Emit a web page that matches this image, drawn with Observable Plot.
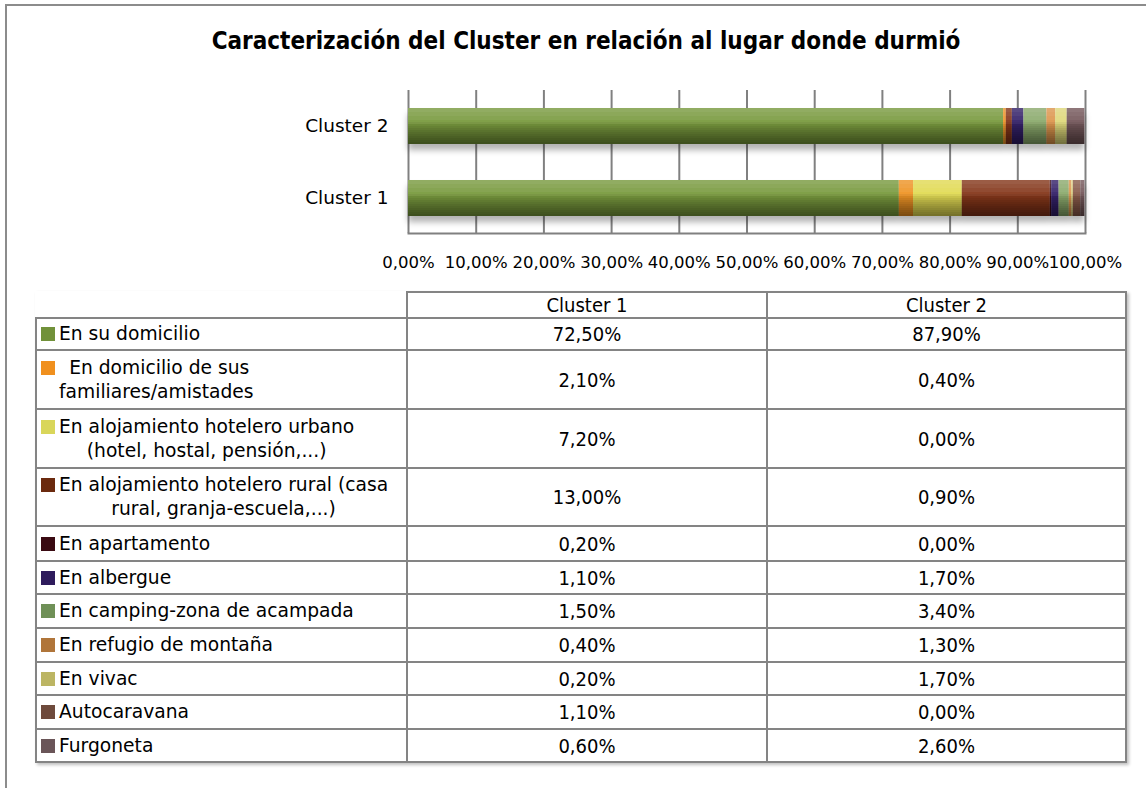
<!DOCTYPE html>
<html><head><meta charset="utf-8">
<script src="https://cdn.jsdelivr.net/npm/d3@7"></script>
<script src="https://cdn.jsdelivr.net/npm/@observablehq/plot@0.6"></script>
<style>
body{margin:0;background:#fff;}
#wrap{position:relative;width:1146px;height:788px;overflow:hidden;background:#fff;}
#frame{position:absolute;left:5px;top:4px;width:1200px;height:900px;border-left:2px solid #8c8c8c;border-top:2px solid #8c8c8c;}
#title{position:absolute;left:0;width:1172px;top:27px;text-align:center;font:bold 24px "DejaVu Sans Condensed";color:#000;}
#chart{position:absolute;left:0;top:80px;}
#tbl{position:absolute;left:35px;top:291px;border-collapse:collapse;color:#000;box-shadow:2px 2px 3px rgba(0,0,0,0.25);table-layout:fixed;}
#tbl td,#tbl th{border:2px solid #848484;padding:0;}
#tbl th{font:20px "DejaVu Sans Condensed";font-weight:normal;text-align:center;height:24px;}
#tbl th.empty{border:none;}
#tbl td.v{text-align:center;font:20px "DejaVu Sans Condensed";}
#tbl td.l{font:18.7px "DejaVu Sans";vertical-align:middle;}
.lab{display:flex;align-items:flex-start;padding-left:4px;}
.sw{width:14px;height:14px;margin-top:5px;margin-right:4px;flex:none;}
.txt{display:inline-block;text-align:center;line-height:24px;}
</style></head>
<body><div id="wrap"><div id="frame"></div><div id="title"></div><div id="chart"></div><table id="tbl"></table></div>
<script>
const title = "Caracterización del Cluster en relación al lugar donde durmió";
const categories = [
  "En su domicilio",
  "En domicilio de sus familiares/amistades",
  "En alojamiento hotelero urbano (hotel, hostal, pensión,...)",
  "En alojamiento hotelero rural (casa rural, granja-escuela,...)",
  "En apartamento",
  "En albergue",
  "En camping-zona de acampada",
  "En refugio de montaña",
  "En vivac",
  "Autocaravana",
  "Furgoneta"
];
const categoryLines = [
  ["En su domicilio"],
  [" En domicilio de sus", "familiares/amistades"],
  ["En alojamiento hotelero urbano", "(hotel, hostal, pensión,...)"],
  ["En alojamiento hotelero rural (casa", "rural, granja-escuela,...)"],
  ["En apartamento"],
  ["En albergue"],
  ["En camping-zona de acampada"],
  ["En refugio de montaña"],
  ["En vivac"],
  ["Autocaravana"],
  ["Furgoneta"]
];
const colors = ["#71913a","#f0901e","#d9d65a","#6b2a0e","#3a0a12","#2e1b5c","#6f9057","#b0753a","#bcb563","#6e4a3c","#6a5558"];
const barColors = ["#7a9b40","#f09526","#e2dc55","#86381a","#3a0a12","#34206a","#8dab6e","#de9750","#e0da7c","#8a5c4c","#74585c"];
const clusters = ["Cluster 2","Cluster 1"];
const headers = ["Cluster 1","Cluster 2"];
const cluster1 = [72.5,2.1,7.2,13.0,0.2,1.1,1.5,0.4,0.2,1.1,0.6];
const cluster2 = [87.9,0.4,0.0,0.9,0.0,1.7,3.4,1.3,1.7,0.0,2.6];
const xTicks = [0,10,20,30,40,50,60,70,80,90,100];
const rowHeights = [32,59,59,58,35,33,34,34,33,34,33];

const fmt = v => v.toFixed(2).replace(".", ",") + "%";

document.getElementById("title").textContent = title;

const data = categories.flatMap((c, i) => [
  {cluster: "Cluster 1", cat: c, value: cluster1[i]},
  {cluster: "Cluster 2", cat: c, value: cluster2[i]}
]);
const totals = [
  {cluster: "Cluster 1", total: d3.sum(cluster1)},
  {cluster: "Cluster 2", total: d3.sum(cluster2)}
];

const stackOpts = {x: "value", y: "cluster", z: "cat", order: categories};

// shading layers (darker towards the bottom, lighter at the top)
const darkInsets = [14, 16, 18, 20, 22, 24, 26, 28, 30, 32, 34];
const lightInsets = [20, 24, 28, 32];
const shade = [
  ...darkInsets.map(t => Plot.barX(totals, {x1: 0, x2: "total", y: "cluster", fill: "black", fillOpacity: 0.056, insetTop: t})),
  ...lightInsets.map(b => Plot.barX(totals, {x1: 0, x2: "total", y: "cluster", fill: "white", fillOpacity: 0.05, insetBottom: b}))
];

const plot = Plot.plot({
  width: 1146, height: 200,
  marginLeft: 408, marginRight: 61, marginTop: 10, marginBottom: 47,
  style: {fontFamily: "DejaVu Sans", color: "#000", background: "transparent"},
  x: {domain: [0, 100], range: [408, 1085]},
  y: {domain: clusters, paddingInner: 0.5, paddingOuter: 0.243},
  color: {domain: categories, range: barColors},
  marks: [
    Plot.gridX(xTicks, {stroke: "#808080", strokeOpacity: 1, strokeWidth: 2}),
    Plot.frame({anchor: "bottom", stroke: "#808080", strokeWidth: 2}),
    Plot.barX(data, Plot.stackX({...stackOpts, fill: "cat", className: "basebars"})),
    ...shade,
    Plot.axisX({ticks: xTicks, tickSize: 0, tickPadding: 23, tickFormat: fmt, fontSize: 16.5, label: null}),
    Plot.axisY({tickSize: 0, tickPadding: 20, fontSize: 18.5, label: null})
  ]
});

const svg = d3.select(plot);
const defs = svg.insert("defs", ":first-child");
const f = defs.append("filter").attr("id", "sh").attr("x", "-5%").attr("y", "-20%").attr("width", "110%").attr("height", "170%");
f.append("feDropShadow").attr("dx", 0).attr("dy", 6).attr("stdDeviation", 3).attr("flood-color", "#000").attr("flood-opacity", 0.3);
svg.selectAll("g.basebars").attr("filter", "url(#sh)");

document.getElementById("chart").appendChild(plot);

// table
const tbl = d3.select("#tbl");
const colW = [370, 358, 357];
const hr = tbl.append("tr");
hr.append("th").attr("class", "empty").style("width", colW[0] + "px");
headers.forEach((h, j) => hr.append("th").style("width", colW[j + 1] + "px").text(h));
categories.forEach((c, i) => {
  const tr = tbl.append("tr").style("height", rowHeights[i] + "px");
  const lab = tr.append("td").attr("class", "l").append("div").attr("class", "lab");
  lab.append("span").attr("class", "sw").style("background", colors[i]);
  const t = lab.append("span").attr("class", "txt").style("white-space", "pre");
  t.html(categoryLines[i].map(s => s.replace(/&/g, "&amp;").replace(/</g, "&lt;")).join("<br>"));
  tr.append("td").attr("class", "v").text(fmt(cluster1[i]));
  tr.append("td").attr("class", "v").text(fmt(cluster2[i]));
});
</script></body></html>
